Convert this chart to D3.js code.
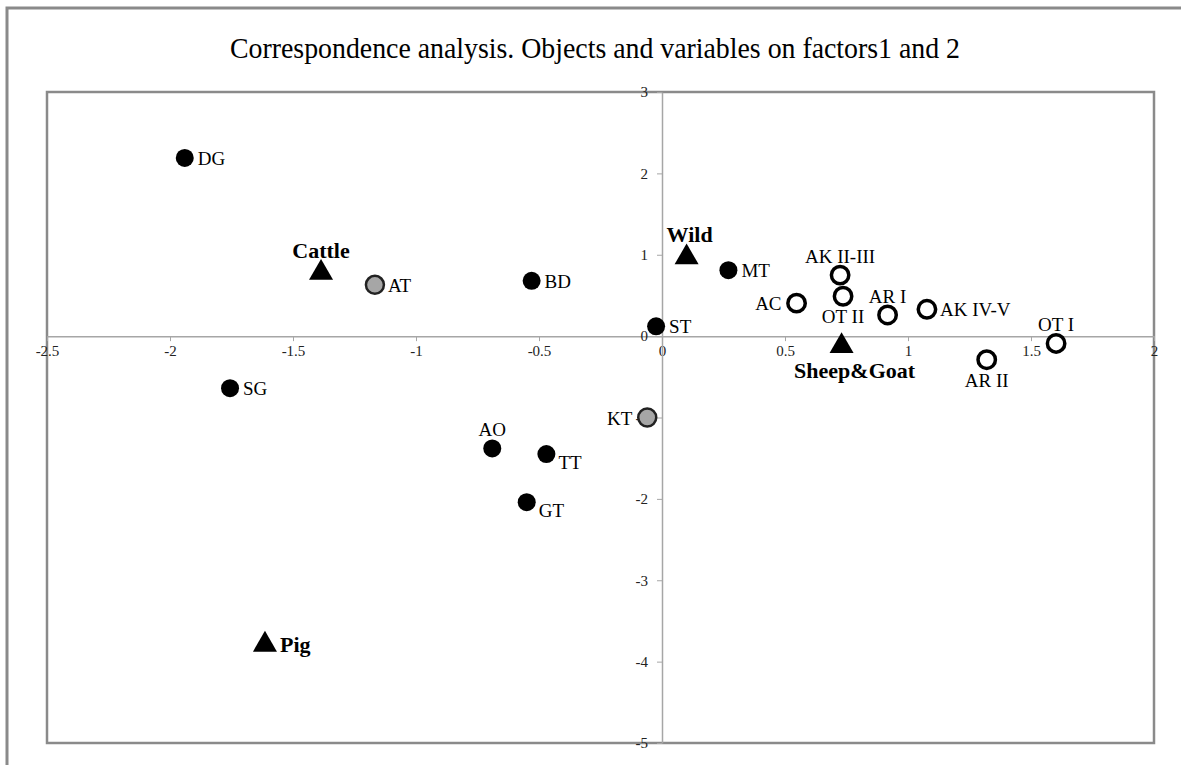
<!DOCTYPE html>
<html>
<head>
<meta charset="utf-8">
<script src="https://cdn.jsdelivr.net/npm/d3@7"></script>
<style>
  body { margin: 0; background: #fff; }
  svg text { font-family: "Liberation Serif", "Times New Roman", serif; }
</style>
</head>
<body>
<script>
// factor scores
const siteNames = ['DG', 'SG', 'BD', 'ST', 'AO', 'TT', 'GT', 'MT'];
const siteX = [-1.94, -1.756, -0.53, -0.024, -0.69, -0.47, -0.55, 0.27];
const siteY = [2.19, -0.64, 0.68, 0.12, -1.38, -1.45, -2.04, 0.81];

const greyNames = ['AT', 'KT'];
const greyX = [-1.167, -0.06];
const greyY = [0.63, -1.0];

const openNames = ['AC', 'AK II-III', 'OT II', 'AR I', 'AK IV-V', 'OT I', 'AR II'];
const openX = [0.547, 0.724, 0.736, 0.917, 1.077, 1.602, 1.32];
const openY = [0.405, 0.75, 0.49, 0.26, 0.33, -0.09, -0.29];

const taxaNames = ['Cattle', 'Wild', 'Sheep&Goat', 'Pig'];
const taxaX = [-1.386, 0.1, 0.73, -1.614];
const taxaY = [0.79, 0.98, -0.11, -3.78];

const xTicks = [-2.5, -2, -1.5, -1, -0.5, 0, 0.5, 1, 1.5, 2];
const yTicks = [-5, -4, -3, -2, -1, 0, 1, 2, 3];

// where each label sits relative to its marker
const labelSide = {
  'DG': 'right', 'SG': 'right', 'BD': 'right', 'ST': 'right', 'AO': 'above',
  'TT': 'belowright', 'GT': 'belowright', 'MT': 'right', 'AT': 'right', 'KT': 'left',
  'AC': 'left', 'AK II-III': 'above', 'OT II': 'below', 'AR I': 'above',
  'AK IV-V': 'right', 'OT I': 'above', 'AR II': 'below',
  'Cattle': 'above', 'Wild': 'above', 'Sheep&Goat': 'below', 'Pig': 'right'
};
const labelNudge = { 'Sheep&Goat': 13, 'Wild': 3 };

const W = 1181, H = 765;
const svg = d3.select('body').append('svg')
  .attr('width', W).attr('height', H);

// outer chart frame
svg.append('path')
  .attr('d', 'M7,' + H + 'V8H' + W)
  .attr('fill', 'none').attr('stroke', '#8a8a8a').attr('stroke-width', 3);

svg.append('text')
  .attr('x', 595).attr('y', 58)
  .attr('text-anchor', 'middle')
  .attr('font-size', 30)
  .attr('textLength', 730)
  .attr('lengthAdjust', 'spacingAndGlyphs')
  .text('Correspondence analysis. Objects and variables on factors1 and 2');

const plotL = 47, plotR = 1154, plotT = 92, plotB = 743;
const x = d3.scaleLinear().domain([-2.5, 2]).range([plotL, plotR]);
const y = d3.scaleLinear().domain([-5, 3]).range([plotB, plotT]);

svg.append('rect')
  .attr('x', plotL).attr('y', plotT)
  .attr('width', plotR - plotL).attr('height', plotB - plotT)
  .attr('fill', 'none').attr('stroke', '#8a8a8a').attr('stroke-width', 2.5);

const fmt = d => String(d);

const xAxis = svg.append('g')
  .attr('transform', 'translate(0,' + y(0) + ')')
  .call(d3.axisBottom(x).tickValues(xTicks).tickFormat(fmt).tickSize(5).tickSizeOuter(0));
const yAxis = svg.append('g')
  .attr('transform', 'translate(' + x(0) + ',0)')
  .call(d3.axisLeft(y).tickValues(yTicks).tickFormat(fmt).tickSize(5).tickSizeOuter(0));

[xAxis, yAxis].forEach(g => {
  g.select('.domain').attr('stroke', '#a6a6a6').attr('stroke-width', 1.5);
  g.selectAll('.tick line').attr('stroke', '#a6a6a6');
  g.selectAll('.tick text')
    .attr('font-family', '"Liberation Serif", serif')
    .attr('font-size', 15).attr('fill', '#222');
});
xAxis.selectAll('.tick text').attr('y', 8).attr('dy', '0.8em');
yAxis.selectAll('.tick text').attr('x', -14);

function makePoints(names, xs, ys) {
  return names.map((n, i) => ({ name: n, x: xs[i], y: ys[i] }));
}
const sites = makePoints(siteNames, siteX, siteY);
const greys = makePoints(greyNames, greyX, greyY);
const opens = makePoints(openNames, openX, openY);
const taxa = makePoints(taxaNames, taxaX, taxaY);

svg.selectAll('circle.site').data(sites).enter().append('circle')
  .attr('class', 'site')
  .attr('cx', d => x(d.x)).attr('cy', d => y(d.y)).attr('r', 9)
  .attr('fill', '#000');

svg.selectAll('circle.grey').data(greys).enter().append('circle')
  .attr('class', 'grey')
  .attr('cx', d => x(d.x)).attr('cy', d => y(d.y)).attr('r', 9)
  .attr('fill', '#a6a6a6').attr('stroke', '#222').attr('stroke-width', 2.5);

svg.selectAll('circle.open').data(opens).enter().append('circle')
  .attr('class', 'open')
  .attr('cx', d => x(d.x)).attr('cy', d => y(d.y)).attr('r', 8.7)
  .attr('fill', '#fff').attr('stroke', '#000').attr('stroke-width', 3.5);

const tri = d3.symbol().type(d3.symbolTriangle).size(250);
svg.selectAll('path.taxon').data(taxa).enter().append('path')
  .attr('class', 'taxon')
  .attr('d', tri)
  .attr('transform', d => 'translate(' + x(d.x) + ',' + (y(d.y) + 1) + ')')
  .attr('fill', '#000');

// offsets [dx, dy, anchor] for plain and bold labels
const plainOffset = {
  right: [13, 7, 'start'], left: [-15, 7, 'end'], above: [0, -12, 'middle'],
  below: [0, 27, 'middle'], belowright: [12, 15, 'start']
};
const boldOffset = {
  right: [15, 8, 'start'], above: [0, -14, 'middle'], below: [0, 33, 'middle']
};

function placeLabel(sel, offs) {
  sel.each(function (d) {
    const o = offs[labelSide[d.name]];
    const nudge = labelNudge[d.name] || 0;
    d3.select(this)
      .attr('x', x(d.x) + o[0] + nudge).attr('y', y(d.y) + o[1])
      .attr('text-anchor', o[2]);
  });
}

svg.selectAll('text.plabel').data(sites.concat(greys, opens)).enter().append('text')
  .attr('class', 'plabel')
  .attr('font-size', 19)
  .text(d => d.name)
  .call(placeLabel, plainOffset);

svg.selectAll('text.tlabel').data(taxa).enter().append('text')
  .attr('class', 'tlabel')
  .attr('font-size', 22).attr('font-weight', 'bold')
  .text(d => d.name)
  .call(placeLabel, boldOffset);
</script>
</body>
</html>
